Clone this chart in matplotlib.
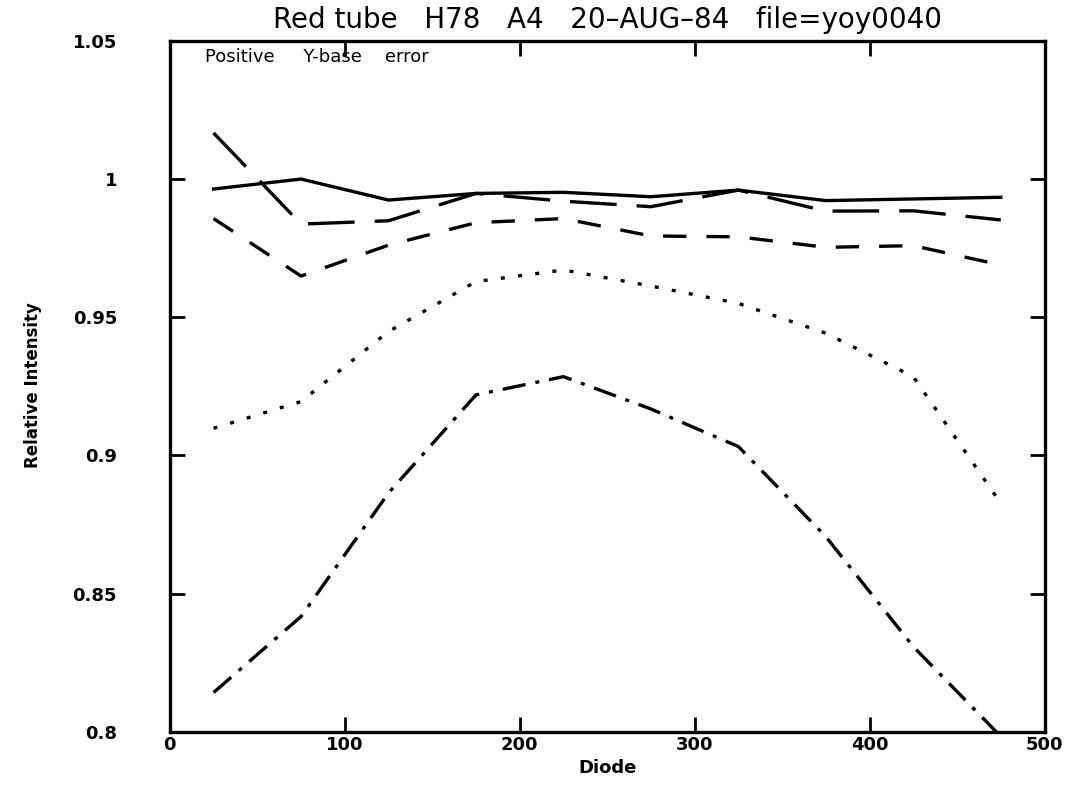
import matplotlib
matplotlib.use("Agg")
import matplotlib.pyplot as plt

diode = [25, 75, 125, 175, 225, 275, 325, 375, 425, 475]
solid = [0.9964, 1.0000, 0.9924, 0.9948, 0.9952, 0.9936, 0.9960, 0.9922, 0.9928, 0.9934]
long_dash = [1.0167, 0.9837, 0.9849, 0.9948, 0.9920, 0.9900, 0.9960, 0.9884, 0.9885, 0.9852]
short_dash = [0.9857, 0.9649, 0.9761, 0.9842, 0.9857, 0.9794, 0.9791, 0.9753, 0.9759, 0.9689]
dotted = [0.9098, 0.9195, 0.9448, 0.9629, 0.9671, 0.9613, 0.9550, 0.9442, 0.9285, 0.8827]
dashdot = [0.8142, 0.8417, 0.8864, 0.9219, 0.9285, 0.9168, 0.9032, 0.8706, 0.8308, 0.7983]

xticks = [0, 100, 200, 300, 400, 500]
yticks = [0.8, 0.85, 0.9, 0.95, 1.0, 1.05]
ytick_labels = ["0.8", "0.85", "0.9", "0.95", "1", "1.05"]

fig = plt.figure(figsize=(10.68, 7.86), dpi=100)
ax = fig.add_axes([0.159, 0.069, 0.819, 0.879])

lw = 2.4
ax.plot(diode, solid, color="black", lw=lw, linestyle="-")
ax.plot(diode, long_dash, color="black", lw=lw, linestyle=(0, (14, 6)))
ax.plot(diode, short_dash, color="black", lw=lw, linestyle=(0, (7, 6)))
ax.plot(diode, dotted, color="black", lw=lw, linestyle=(0, (1.2, 4)))
ax.plot(diode, dashdot, color="black", lw=lw, linestyle=(0, (7, 3, 1.2, 3)))

ax.set_xlim(0, 500)
ax.set_ylim(0.8, 1.05)
ax.set_xticks(xticks)
ax.set_xticklabels([str(t) for t in xticks], fontsize=13, fontweight="bold")
ax.set_yticks(yticks)
ax.set_yticklabels(ytick_labels, fontsize=13, fontweight="bold")
ax.tick_params(direction="in", length=11, width=2, top=True, right=True)
ax.tick_params(axis="y", pad=38)
ax.tick_params(axis="x", pad=3)
for s in ax.spines.values():
    s.set_linewidth(2.4)

ax.set_xlabel("Diode", fontsize=13, fontweight="bold", labelpad=4)
fig.text(0.031, 0.51, "Relative Intensity", rotation=90, fontsize=12,
         fontweight="bold", ha="center", va="center")
ax.set_title("Red tube   H78   A4   20\u2013AUG\u201384   file=yoy0040",
             fontsize=20, pad=9)
ax.text(0.04, 0.99, "Positive     Y-base    error", transform=ax.transAxes,
        fontsize=13, va="top", ha="left")

fig.savefig("out.png", dpi=100)
